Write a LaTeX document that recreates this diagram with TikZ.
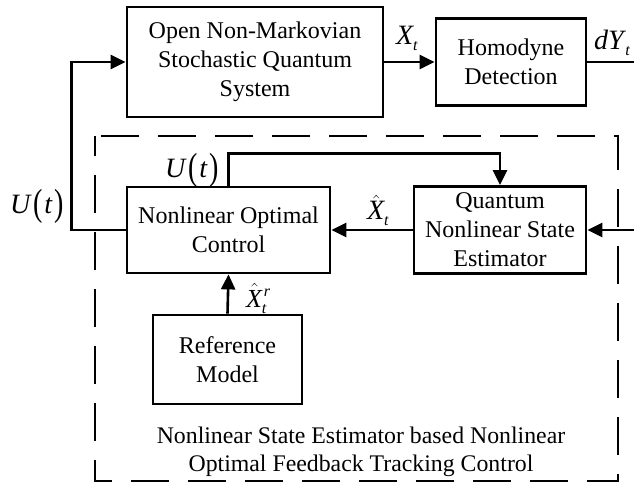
\documentclass[tikz,border=0pt]{standalone}
\usepackage{fontspec}
\setmainfont{Liberation Serif}
\usepackage{graphicx}
\usetikzlibrary{arrows.meta}
\newcommand{\lsub}[1]{\raisebox{-6pt}{\fontsize{16}{16}\selectfont\textit{#1}}}
\newcommand{\lsup}[1]{\raisebox{11pt}{\fontsize{16}{16}\selectfont\textit{#1}}}
\newcommand{\lpar}[1]{\raisebox{-1.5pt}{\scalebox{1}[1.35]{#1}}}
\newcommand{\Ut}{\textit{U}\kern2pt\lpar{(}\kern1pt\textit{t}\kern2pt\lpar{)}}
\newcommand{\hX}{$\hat{\mbox{\textit{X}}}$}
\begin{document}
\begin{tikzpicture}[x=1pt,y=-1pt,
  box/.style={draw, line width=2.8pt, inner sep=0pt, align=center,
    font=\fontsize{24}{29}\selectfont},
  lab/.style={inner sep=0pt, font=\fontsize{28}{32}\selectfont},
  arr/.style={line width=2.6pt, -{Triangle[length=15pt,width=14pt]}},
  ln/.style={line width=2.6pt},
  dashbox/.style={line width=2.8pt, dash pattern=on 38pt off 19pt, dash phase=18pt}]
\useasboundingbox (0,0) rectangle (634,486);
% dashed frame
\draw[dashbox] (95,136) rectangle (618,481);
% boxes
\node[box, minimum width=256pt, minimum height=110pt] (sys) at (255,62)
  {Open Non-Markovian\\Stochastic Quantum\\System};
\node[box, minimum width=150pt, minimum height=87pt] (hd) at (511,62)
  {Homodyne\\Detection};
\node[box, minimum width=203pt, minimum height=86pt] (noc) at (228.5,230)
  {Nonlinear Optimal\\Control};
\node[box, minimum width=172pt, minimum height=87pt] (qse) at (500,230)
  {Quantum\\Nonlinear State\\Estimator};
\node[box, minimum width=149pt, minimum height=89pt] (ref) at (227.5,359.5)
  {Reference\\Model};
% free ends
\coordinate (out) at (634,62);
\coordinate (in) at (634,230);
% connectors
\draw[arr] (noc.west) -- ++(-54,0) |- (sys.west);
\draw[arr] (sys.east) -- (hd.west);
\draw[ln] (hd.east) -- (out);
\draw[arr] (in) -- (qse.east);
\draw[arr] (qse.west) -- (noc.east);
\draw[arr] (noc.north) -- ++(0,-32) -| (qse.north);
\draw[arr] (ref.north) -- (noc.south);
% labels
\node[lab, anchor=base west] (lU1) at (10,214) {\Ut};
\node[lab, anchor=base west] (lU2) at (165,178) {\Ut};
\node[lab, anchor=base west] (lX) at (396,45) {\textit{X}\kern-1pt\lsub{t}};
\node[lab, anchor=base west] (lY) at (594,50) {\textit{dY}\kern-1pt\lsub{t}};
\node[lab, anchor=base west] (lhX) at (367,220) {\hX\kern-1pt\lsub{t}};
\node[lab, anchor=base west, font=\fontsize{26}{30}\selectfont] (lhXr) at (246,307)
  {\hX\kern1pt\rlap{\lsup{r}}\kern-2pt\lsub{t}};
\node[inner sep=0pt, align=center, font=\fontsize{23.8}{28}\selectfont] (cap) at (361,452)
  {Nonlinear State Estimator based Nonlinear\\Optimal Feedback Tracking Control};
\end{tikzpicture}
\end{document}
